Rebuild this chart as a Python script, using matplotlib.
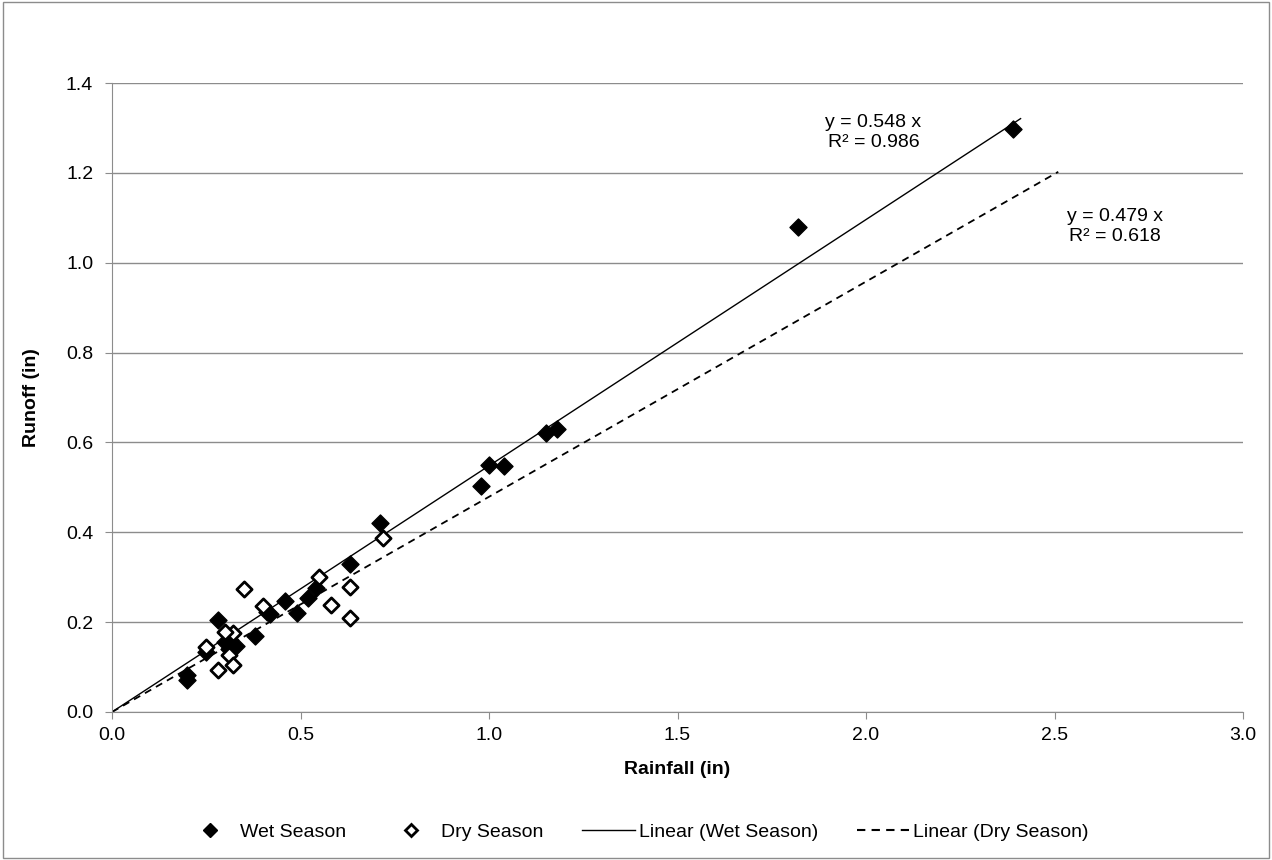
import matplotlib.pyplot as plt
from matplotlib.lines import Line2D
import numpy as np

plt.rcParams['font.family'] = ['Liberation Sans', 'DejaVu Sans']

# Wet season (filled diamonds)
wet_rain = [2.39, 1.82, 1.18, 1.15, 1.00, 1.04, 0.98, 0.71, 0.63, 0.54, 0.52,
            0.46, 0.49, 0.42, 0.41, 0.38, 0.28, 0.33, 0.30, 0.31, 0.25, 0.20, 0.20]
wet_runoff = [1.297, 1.08, 0.63, 0.62, 0.55, 0.548, 0.503, 0.42, 0.33, 0.276, 0.254,
              0.247, 0.221, 0.218, 0.222, 0.169, 0.205, 0.147, 0.156, 0.14, 0.133, 0.082, 0.071]

# Dry season (open diamonds)
dry_rain = [0.72, 0.55, 0.63, 0.35, 0.40, 0.58, 0.63, 0.32, 0.30, 0.25, 0.31, 0.28, 0.32]
dry_runoff = [0.387, 0.30, 0.278, 0.273, 0.236, 0.238, 0.209, 0.176, 0.178, 0.145, 0.127, 0.093, 0.105]

wet_slope, wet_r2 = 0.548, 0.986
dry_slope, dry_r2 = 0.479, 0.618
wet_xmax, dry_xmax = 2.41, 2.51

FS = 14

fig = plt.figure(figsize=(12.72, 8.6), dpi=100)
ax = fig.add_axes([112 / 1272, 1 - 712 / 860, (1243 - 112) / 1272, (712 - 83) / 860])

ax.set_xlim(0, 3.0)
ax.set_ylim(0, 1.4)
ax.set_xticks(np.arange(0, 3.01, 0.5))
ax.set_yticks(np.arange(0, 1.41, 0.2))
ax.xaxis.set_major_formatter(plt.FormatStrFormatter('%.1f'))
ax.yaxis.set_major_formatter(plt.FormatStrFormatter('%.1f'))
ax.grid(axis='y', color='#8c8c8c', linewidth=1)
ax.set_axisbelow(True)
for s in ['top', 'right']:
    ax.spines[s].set_visible(False)
for s in ['left', 'bottom']:
    ax.spines[s].set_color('#8c8c8c')
ax.tick_params(labelcolor='black', color='#8c8c8c', labelsize=FS, length=5, direction='out')
ax.tick_params(axis='y', pad=8.5)
ax.tick_params(axis='x', pad=6)

xs = np.array([0, wet_xmax])
ax.plot(xs, wet_slope * xs, color='black', linewidth=1, zorder=2)
xs = np.array([0, dry_xmax])
ax.plot(xs, dry_slope * xs, color='black', linewidth=1.3, linestyle=(0, (4, 3)), zorder=2)

ax.scatter(wet_rain, wet_runoff, marker='D', s=75, color='black', zorder=3)
ax.scatter(dry_rain, dry_runoff, marker='D', s=60, facecolor='white', edgecolor='black',
           linewidth=2, zorder=4)

ax.text(2.02, 1.29, 'y = %.3f x\nR² = %.3f' % (wet_slope, wet_r2), ha='center', va='center',
        fontsize=FS, linespacing=1.25)
ax.text(2.66, 1.08, 'y = %.3f x\nR² = %.3f' % (dry_slope, dry_r2), ha='center', va='center',
        fontsize=FS, linespacing=1.2)

ax.set_xlabel('Rainfall (in)', fontsize=FS, fontweight='bold', labelpad=12)
ax.set_ylabel('Runoff (in)', fontsize=FS, fontweight='bold')
ax.yaxis.set_label_coords((40 - 112) / (1243 - 112), 0.5)

handles = [
    Line2D([], [], marker='D', color='black', linestyle='none', markersize=7),
    Line2D([], [], marker='D', markerfacecolor='white', markeredgecolor='black',
           markeredgewidth=2, linestyle='none', markersize=6.5),
    Line2D([], [], color='black', linewidth=1),
    Line2D([], [], color='black', linewidth=1.5, linestyle=(0, (4, 3))),
]
labels = ['Wet Season', 'Dry Season', 'Linear (Wet Season)', 'Linear (Dry Season)']
fig.legend(handles, labels, loc='center', bbox_to_anchor=(0.5, 1 - 832 / 860), ncol=4,
           frameon=False, fontsize=FS, handlelength=2.7, handletextpad=0.2,
           columnspacing=2.0)

border = plt.Rectangle((0.002, 0.002), 0.996, 0.996, transform=fig.transFigure,
                       fill=False, edgecolor='#8c8c8c', linewidth=1)
fig.patches.append(border)

fig.savefig('out.png', dpi=100)
